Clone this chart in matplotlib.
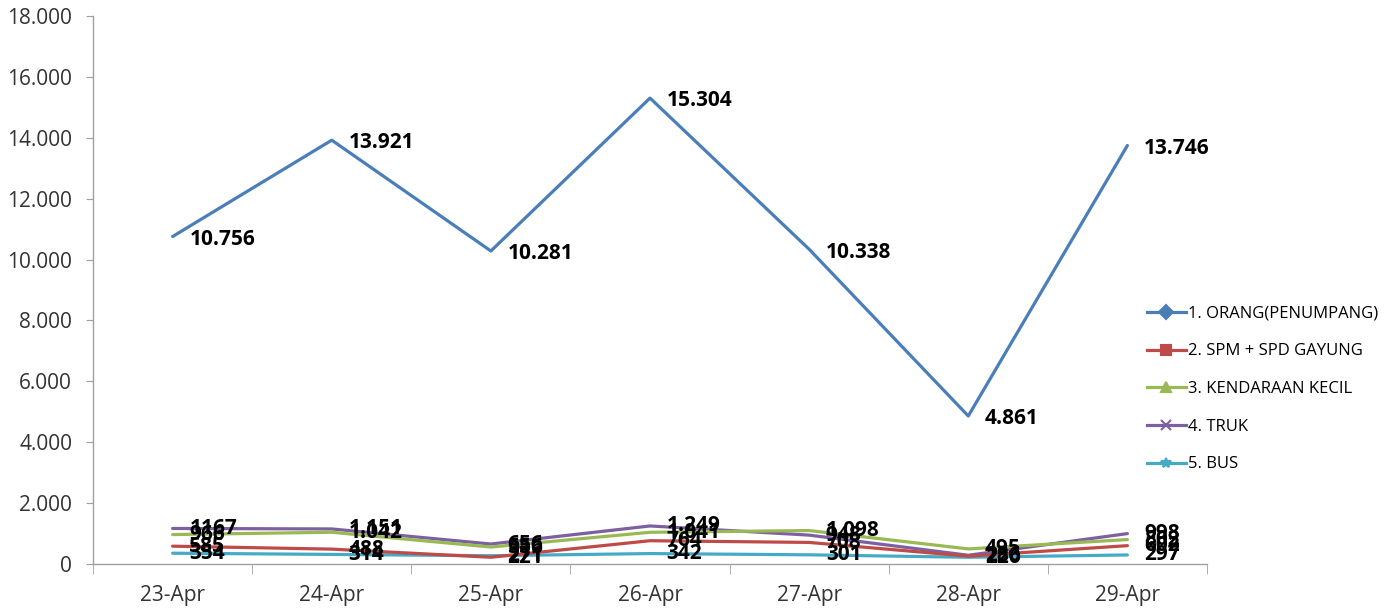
import matplotlib
matplotlib.use("Agg")
import matplotlib.pyplot as plt
from matplotlib.lines import Line2D
from matplotlib.ticker import FuncFormatter, MultipleLocator

plt.rcParams["font.family"] = ["Open Sans", "DejaVu Sans"]

# ── Data ──────────────────────────────────────────────────────────────────────
dates = ["23-Apr", "24-Apr", "25-Apr", "26-Apr", "27-Apr", "28-Apr", "29-Apr"]

orang = [10756, 13921, 10281, 15304, 10338, 4861, 13746]
spm   = [585, 488, 221, 764, 708, 256, 602]
kecil = [966, 1042, 556, 1041, 1098, 495, 802]
truk  = [1167, 1151, 656, 1249, 948, 286, 998]
bus   = [354, 314, 271, 342, 301, 220, 297]

names = ["1. ORANG(PENUMPANG)", "2. SPM + SPD GAYUNG", "3. KENDARAAN KECIL",
         "4. TRUK", "5. BUS"]

BLUE   = "#4A7EBB"
RED    = "#BE4B48"
GREEN  = "#98B954"
PURPLE = "#7D60A0"
CYAN   = "#46AAC5"
AXIS   = "#A0A0A0"
TEXT   = "#333333"

series  = [orang, spm, kecil, truk, bus]
colors  = [BLUE, RED, GREEN, PURPLE, CYAN]
markers = ["D", "s", "^", "x", "*"]


def fmt_num(v, plain=False):
    if plain or v < 1000:
        return str(v)
    return f"{v:,}".replace(",", ".")


# ── Figure ────────────────────────────────────────────────────────────────────
fig = plt.figure(figsize=(13.91, 6.08), dpi=100)
ax = fig.add_axes([0.0669, 0.0724, 0.8008, 0.9013])

x = list(range(len(dates)))
# draw small series first, big one on top
for vals, col in list(zip(series, colors))[::-1]:
    ax.plot(x, vals, color=col, lw=2.3, solid_capstyle="round", zorder=3)

for si, (vals, col) in enumerate(zip(series, colors)):
    for i, v in enumerate(vals):
        # first TRUK label is shown without thousands separator in the source
        plain = (si == 3 and i == 0)
        dy = -2 if si == 0 else 0
        ax.annotate(fmt_num(v, plain), xy=(i, v), xytext=(12, dy),
                    textcoords="offset points", ha="left", va="center",
                    fontsize=15, fontweight="bold", color="black", zorder=5)

ax.set_xlim(-0.5, len(dates) - 0.5)
ax.set_ylim(0, 18000)
ax.yaxis.set_major_locator(MultipleLocator(2000))
ax.yaxis.set_major_formatter(FuncFormatter(lambda v, p: fmt_num(int(v))))

ax.set_xticks(x)
ax.set_xticklabels(dates)
ax.set_xticks([i - 0.5 for i in range(len(dates) + 1)], minor=True)
ax.tick_params(axis="x", which="major", length=0, pad=15, labelsize=15,
               labelcolor=TEXT)
ax.tick_params(axis="x", which="minor", length=7, color=AXIS, direction="out")
ax.tick_params(axis="y", length=5, color=AXIS, labelsize=15,
               labelcolor=TEXT, pad=10)

for side in ("top", "right"):
    ax.spines[side].set_visible(False)
for side in ("left", "bottom"):
    ax.spines[side].set_color(AXIS)
    ax.spines[side].set_linewidth(1.0)

handles = [Line2D([0], [0], color=c, lw=2.3, marker=m, markersize=7,
                  markeredgewidth=1.5, markerfacecolor=c, markeredgecolor=c)
           for c, m in zip(colors, markers)]
fig.legend(handles, names, loc="center left", bbox_to_anchor=(0.814, 0.36),
           frameon=False, fontsize=12, handlelength=2.3, handletextpad=0.15,
           labelspacing=1.3, labelcolor="black")

fig.savefig("out.png", dpi=100)
